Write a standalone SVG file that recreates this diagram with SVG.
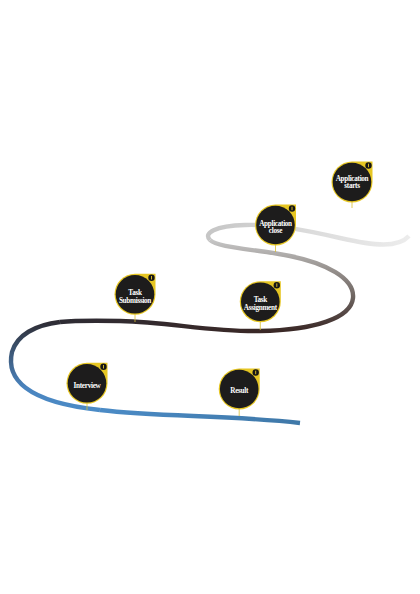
<svg xmlns="http://www.w3.org/2000/svg" width="420" height="594" viewBox="0 0 420 594">
<style>
.seg{fill:none;stroke-width:4.4;stroke-linecap:butt;stroke-linejoin:round}
.pin{fill:#e6c623}
.disc{fill:#1d1c1c}
.ico{fill:#161616}
.icobar{stroke:#e6c623;stroke-width:0.9}
.stem{stroke:#d9bf33;stroke-width:0.8}
.lbl{font-family:"Liberation Serif","DejaVu Serif",serif;font-weight:bold;font-size:7.2px;fill:#ffffff;text-anchor:middle;letter-spacing:-0.3px}
</style>
<defs>
<linearGradient id="gA" gradientUnits="userSpaceOnUse" x1="408" y1="0" x2="210" y2="0">
<stop offset="0" stop-color="#ececec"/><stop offset="0.6" stop-color="#d8d8d8"/><stop offset="1" stop-color="#c6c6c6"/>
</linearGradient>
<linearGradient id="gB" gradientUnits="userSpaceOnUse" x1="0" y1="240" x2="0" y2="331">
<stop offset="0" stop-color="#c6c6c6"/><stop offset="0.3" stop-color="#9a9592"/><stop offset="0.65" stop-color="#6a605c"/><stop offset="1" stop-color="#3a2826"/>
</linearGradient>
<linearGradient id="gC" gradientUnits="userSpaceOnUse" x1="260" y1="0" x2="60" y2="0">
<stop offset="0" stop-color="#3a2826"/><stop offset="1" stop-color="#2e2c34"/>
</linearGradient>
<linearGradient id="gD" gradientUnits="userSpaceOnUse" x1="0" y1="322" x2="0" y2="410">
<stop offset="0" stop-color="#2e2c34"/><stop offset="0.35" stop-color="#3d5878"/><stop offset="0.75" stop-color="#4a84bf"/><stop offset="1" stop-color="#4b8bc6"/>
</linearGradient>
<linearGradient id="gE" gradientUnits="userSpaceOnUse" x1="100" y1="0" x2="300" y2="0">
<stop offset="0" stop-color="#4b8bc6"/><stop offset="1" stop-color="#3f78a8"/>
</linearGradient>
<g id="badge">
<path class="pin" d="M0,-20.5 A20.5,20.5 0 1,0 20.5,0 L20.5,-20.5 Z"/>
<circle class="disc" r="19.3"/>
<circle class="ico" cx="16.5" cy="-16.5" r="3.2"/>
<line class="icobar" x1="16.5" y1="-18.3" x2="16.5" y2="-14.8"/>
</g>
</defs>
<rect width="420" height="594" fill="#ffffff"/>
<g id="connectors">
<path class="seg" stroke="url(#gA)" stroke-width="5" d="M409,236 C398,248 375,246 340,238 C305,230 275,224 245,225 C215,226 203,233 210,240"/>
<path class="seg" stroke="url(#gB)" d="M210,240 C218,248 255,249 290,256 C325,263 355,278 353,298 C351,318 315,330 260,331"/>
<path class="seg" stroke="url(#gC)" d="M260,331 C210,332 170,322 120,321 C95,320.5 75,320.5 60,322"/>
<path class="seg" stroke="url(#gD)" d="M60,322 C35,325 17,335 12,352 C6,378 25,402 100,410"/>
<path class="seg" stroke="url(#gE)" d="M100,410 C160,417 230,415 300,423"/>
</g>
<g id="node-application-starts">
<line class="stem" x1="352" y1="202" x2="352" y2="208"/>
<use href="#badge" x="352" y="182"/>
<text class="lbl" x="352" y="180.6">Application</text>
<text class="lbl" x="352" y="188.3">starts</text>
</g>
<g id="node-application-close">
<line class="stem" x1="275.5" y1="245" x2="275.5" y2="252"/>
<use href="#badge" x="275.5" y="225"/>
<text class="lbl" x="275.5" y="226.3">Application</text>
<text class="lbl" x="275.5" y="233.3">close</text>
</g>
<g id="node-task-submission">
<line class="stem" x1="135" y1="314" x2="135" y2="322"/>
<use href="#badge" x="135" y="294.3"/>
<text class="lbl" x="135" y="294.6">Task</text>
<text class="lbl" x="135" y="302.6">Submission</text>
</g>
<g id="node-task-assignment">
<line class="stem" x1="260.3" y1="321" x2="260.3" y2="330"/>
<use href="#badge" x="260.3" y="301.7"/>
<text class="lbl" x="260.3" y="301.6">Task</text>
<text class="lbl" x="260.3" y="309.6">Assignment</text>
</g>
<g id="node-interview">
<line class="stem" x1="87" y1="403" x2="87" y2="410"/>
<use href="#badge" x="87" y="383.3"/>
<text class="lbl" x="87" y="388">Interview</text>
</g>
<g id="node-result">
<line class="stem" x1="239.2" y1="409" x2="239.2" y2="416"/>
<use href="#badge" x="239.2" y="389"/>
<text class="lbl" x="239.2" y="393.3">Result</text>
</g>
</svg>
